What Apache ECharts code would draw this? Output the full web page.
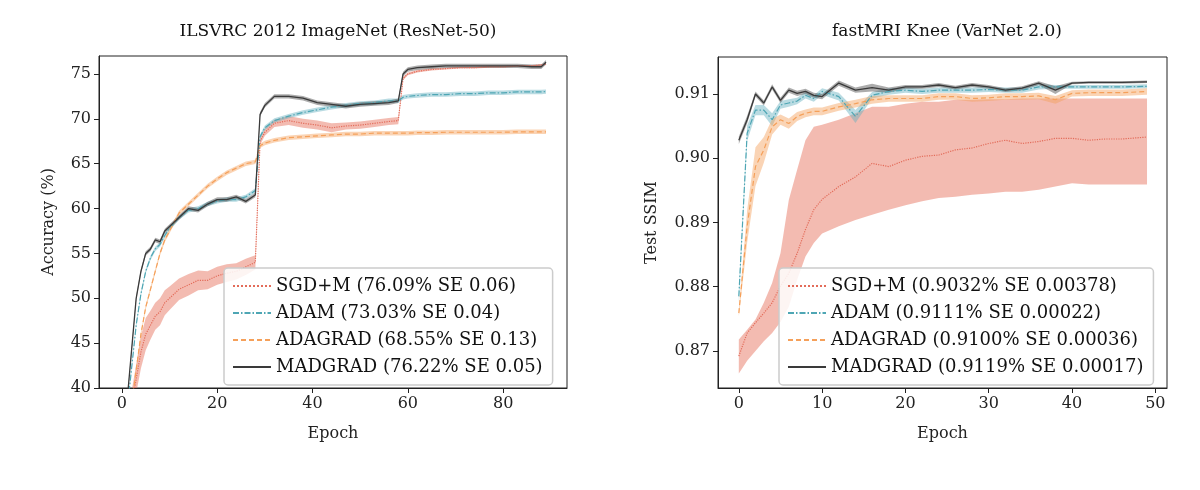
<!DOCTYPE html>
<html>
<head>
<meta charset="utf-8">
<script src="https://cdn.jsdelivr.net/npm/echarts@6/dist/echarts.min.js"></script>
<style>html,body{margin:0;background:#fff}#c{width:1200px;height:490px}</style>
</head>
<body>
<div id="c"></div>
<script>
// ImageNet (left)
var epochsL = [1,2,3,4,5,6,7,8,9,10,12,14,16,18,20,22,24,26,28,29,30,32,35,38,41,44,47,50,53,56,58,59,60,62,65,68,71,74,77,80,83,86,88,89];
var sgdL = [35,38,41,44,46,47,48,48.5,49.5,50,51,51.5,52,52,52.5,52.8,53,53.5,54,67.5,68.5,69.5,69.8,69.5,69.3,69,69.2,69.3,69.5,69.7,69.8,74.5,75,75.3,75.5,75.6,75.7,75.7,75.8,75.8,75.9,75.9,76,76.09];
var sgdLse = [1.5,1.5,1.6,1.8,1.8,1.6,1.5,1.5,1.4,1.3,1.2,1.2,1.1,1,1,1,0.9,0.9,0.8,0.4,0.4,0.4,0.5,0.5,0.5,0.5,0.4,0.4,0.4,0.4,0.4,0.2,0.15,0.15,0.12,0.1,0.1,0.1,0.1,0.1,0.1,0.1,0.1,0.1];
var adamL = [37,42,47,50.5,53,54.5,55.5,56,57,57.8,59,59.8,60,60.5,60.8,61,61,61.3,62,68,69,69.8,70.3,70.7,71,71.3,71.5,71.7,71.8,72,72,72.4,72.5,72.6,72.7,72.7,72.8,72.8,72.9,72.9,73,73,73,73.03];
var adagradL = [35,38,42,46,49,51,53,55,56.5,57.5,59.5,60.5,61.5,62.5,63.3,64,64.5,65,65.2,67,67.3,67.6,67.9,68,68.1,68.2,68.3,68.3,68.4,68.4,68.4,68.4,68.4,68.45,68.45,68.5,68.5,68.5,68.5,68.5,68.55,68.55,68.55,68.55];
var madgradL = [38,44,50,53,55,55.5,56.5,56.3,57.5,58,59,60,59.8,60.5,61,61,61.3,60.8,61.5,70.5,71.5,72.5,72.5,72.3,71.8,71.6,71.4,71.6,71.7,71.8,72,75,75.5,75.7,75.8,75.9,75.9,75.9,75.9,75.9,75.9,75.8,75.8,76.3];
var smallSeL = 0.25;

// fastMRI (right)
var epochsR = [0,1,2,3,4,5,6,7,8,9,10,12,14,16,18,20,22,24,26,28,30,32,34,36,38,40,42,44,46,49];
var sgdR = [.8692,.8728,.8744,.8759,.8775,.8801,.8821,.8852,.8889,.8920,.8936,.8956,.8971,.8992,.8987,.8997,.9003,.9005,.9013,.9016,.9023,.9028,.9023,.9026,.9031,.9031,.9028,.9030,.9030,.9033];
var sgdRup = [.8718,.8733,.8749,.8775,.8806,.8852,.8935,.8982,.9028,.9049,.9052,.9060,.9070,.9080,.9080,.9085,.9088,.9088,.9091,.9091,.9092,.9092,.9093,.9093,.9093,.9093,.9093,.9093,.9093,.9093];
var sgdRlo = [.8665,.8685,.8700,.8715,.8728,.8745,.8769,.8811,.8847,.8868,.8883,.8894,.8904,.8912,.8920,.8927,.8933,.8938,.8940,.8943,.8945,.8948,.8948,.8951,.8956,.8961,.8959,.8959,.8959,.8959];
var adamR = [.8785,.9039,.9075,.9075,.9060,.9083,.9086,.9089,.9098,.9093,.9104,.9096,.9065,.9098,.9104,.9106,.9104,.9106,.9106,.9106,.9107,.9106,.9106,.9111,.9111,.9111,.9111,.9111,.9111,.9112];
var adagradR = [.8759,.8894,.8987,.9013,.9049,.9060,.9054,.9065,.9070,.9073,.9073,.9080,.9085,.9091,.9093,.9093,.9093,.9096,.9096,.9093,.9094,.9096,.9096,.9097,.9091,.9101,.9102,.9102,.9102,.9104];
var madgradR = [.9028,.9060,.9100,.9086,.9111,.9090,.9106,.9101,.9104,.9098,.9096,.9117,.9106,.9110,.9106,.9111,.9111,.9114,.9110,.9114,.9111,.9106,.9109,.9117,.9106,.9117,.9118,.9118,.9118,.9119];
var adamRse = [.0010,.0012,.0008,.0008,.0010,.0006,.0006,.0005,.0005,.0005,.0005,.0006,.0010,.0005,.0005,.0004,.0004,.0004,.0004,.0004,.0004,.0004,.0004,.0004,.0003,.0003,.0003,.0003,.0003,.0003];
var adagradRse = [.0005,.0025,.0030,.0020,.0012,.0008,.0008,.0007,.0006,.0006,.0006,.0006,.0006,.0006,.0005,.0005,.0005,.0005,.0005,.0005,.0005,.0005,.0005,.0005,.0006,.0005,.0005,.0005,.0005,.0005];
var madgradRse = [.0006,.0006,.0004,.0004,.0004,.0004,.0004,.0004,.0004,.0004,.0004,.0004,.0004,.0006,.0004,.0003,.0003,.0003,.0003,.0003,.0003,.0003,.0003,.0003,.0006,.0002,.0002,.0002,.0002,.0002];

var labelsL = ['SGD+M (76.09% SE 0.06)', 'ADAM (73.03% SE 0.04)', 'ADAGRAD (68.55% SE 0.13)', 'MADGRAD (76.22% SE 0.05)'];
var labelsR = ['SGD+M (0.9032% SE 0.00378)', 'ADAM (0.9111% SE 0.00022)', 'ADAGRAD (0.9100% SE 0.00036)', 'MADGRAD (0.9119% SE 0.00017)'];
var colors = ['#e36c5a', '#4ea6b4', '#f5a05a', '#3a3a3a'];
var bandColors = ['rgba(232,120,100,0.5)', 'rgba(100,175,190,0.45)', 'rgba(245,160,90,0.45)', 'rgba(70,70,70,0.45)'];
var dashes = ['dotted', [6, 2, 1.5, 2], [5, 3], 'solid'];
var FONT = 'DejaVu Serif';

var zip = function (xs, ys) {
    return xs.map(function (x, i) { return [x, ys[i]]; });
};

var band = function (idx, xs, lo, hi, k) {
    return {
        type: 'custom', xAxisIndex: idx, yAxisIndex: idx, clip: true, silent: true, z: 1,
        data: [0],
        renderItem: function (params, api) {
            var pts = [], i;
            for (i = 0; i < xs.length; i++) pts.push(api.coord([xs[i], hi[i]]));
            for (i = xs.length - 1; i >= 0; i--) pts.push(api.coord([xs[i], lo[i]]));
            return {type: 'polygon', shape: {points: pts}, style: {fill: bandColors[k]}};
        }
    };
};

var line = function (idx, name, xs, ys, k) {
    return {
        type: 'line', name: name, xAxisIndex: idx, yAxisIndex: idx, data: zip(xs, ys),
        showSymbol: false, symbol: 'none', z: 3, clip: true,
        lineStyle: {color: colors[k], width: k === 3 ? 1.3 : 1.2, type: dashes[k]},
        itemStyle: {color: colors[k]}
    };
};

var plus = function (a, s) { return a.map(function (v, i) { return v + (Array.isArray(s) ? s[i] : s); }); };
var minus = function (a, s) { return a.map(function (v, i) { return v - (Array.isArray(s) ? s[i] : s); }); };

var seriesL = [sgdL, adamL, adagradL, madgradL];
var seL = [sgdLse, smallSeL, smallSeL, smallSeL];
var seriesR = [sgdR, adamR, adagradR, madgradR];
var seR = [null, adamRse, adagradRse, madgradRse];

var series = [];
for (var k = 0; k < 4; k++) {
    series.push(band(0, epochsL, minus(seriesL[k], seL[k]), plus(seriesL[k], seL[k]), k));
    series.push(line(0, labelsL[k], epochsL, seriesL[k], k));
    if (k === 0) series.push(band(1, epochsR, sgdRlo, sgdRup, 0));
    else series.push(band(1, epochsR, minus(seriesR[k], seR[k]), plus(seriesR[k], seR[k]), k));
    series.push(line(1, labelsR[k], epochsR, seriesR[k], k));
}

var axisCommon = {
    axisLine: {show: true, onZero: false, lineStyle: {color: '#222', width: 1}},
    axisTick: {show: true, length: 5, lineStyle: {color: '#222'}},
    axisLabel: {color: '#222', fontFamily: FONT, fontSize: 16, margin: 8},
    splitLine: {show: false},
    nameTextStyle: {color: '#222', fontFamily: FONT, fontSize: 16}
};
var ax = function (o) { return Object.assign({}, axisCommon, o); };
var ticks = function (vals, extra) {
    return {
        axisLabel: Object.assign({}, axisCommon.axisLabel, {customValues: vals}, extra || {}),
        axisTick: Object.assign({}, axisCommon.axisTick, {customValues: vals})
    };
};

var legendCommon = {
    orient: 'vertical', itemWidth: 38, itemHeight: 12, itemGap: 9,
    itemStyle: {opacity: 0},
    backgroundColor: 'rgba(255,255,255,0.85)', borderColor: '#ccc', borderWidth: 1.5, borderRadius: 4,
    padding: [9, 10, 9, 8],
    textStyle: {fontFamily: FONT, fontSize: 18, color: '#111'}
};

var chart = echarts.init(document.getElementById('c'));
chart.setOption({
    animation: false,
    title: [
        {text: 'ILSVRC 2012 ImageNet (ResNet-50)', left: 333, top: 18, textAlign: 'center',
            textStyle: {fontFamily: FONT, fontSize: 17, fontWeight: 'normal', color: '#111'}},
        {text: 'fastMRI Knee (VarNet 2.0)', left: 942, top: 18, textAlign: 'center',
            textStyle: {fontFamily: FONT, fontSize: 17, fontWeight: 'normal', color: '#111'}}
    ],
    grid: [
        {left: 99, top: 56, width: 468, height: 332, show: true, borderColor: '#222', borderWidth: 1},
        {left: 718, top: 57, width: 449, height: 331, show: true, borderColor: '#222', borderWidth: 1}
    ],
    xAxis: [
        ax(Object.assign({type: 'value', gridIndex: 0, min: -4.8, max: 93.4, name: 'Epoch', nameLocation: 'middle', nameGap: 38},
            ticks([0, 20, 40, 60, 80]))),
        ax(Object.assign({type: 'value', gridIndex: 1, min: -2.5, max: 51.4, name: 'Epoch', nameLocation: 'middle', nameGap: 38},
            ticks([0, 10, 20, 30, 40, 50])))
    ],
    yAxis: [
        ax(Object.assign({type: 'value', gridIndex: 0, min: 40, max: 77, name: 'Accuracy (%)', nameLocation: 'middle', nameGap: 42},
            ticks([40, 45, 50, 55, 60, 65, 70, 75]))),
        ax(Object.assign({type: 'value', gridIndex: 1, min: 0.86424, max: 0.91576, name: 'Test SSIM', nameLocation: 'middle', nameGap: 58},
            ticks([0.87, 0.88, 0.89, 0.90, 0.91], {formatter: function (v) { return v.toFixed(2); }})))
    ],
    legend: [
        Object.assign({}, legendCommon, {data: labelsL, left: 224, top: 268}),
        Object.assign({}, legendCommon, {data: labelsR, left: 779, top: 268})
    ],
    series: series
});
</script>
</body>
</html>
